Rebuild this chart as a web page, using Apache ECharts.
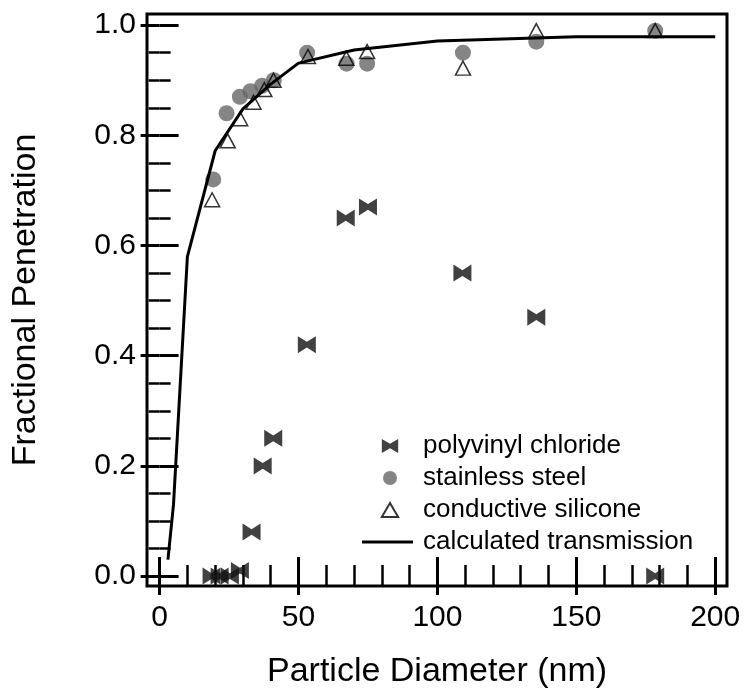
<!DOCTYPE html>
<html>
<head>
<meta charset="utf-8">
<script src="https://cdn.jsdelivr.net/npm/echarts@6/dist/echarts.min.js"></script>
<style>
html,body{margin:0;padding:0;background:#fff;}
#chart{width:745px;height:694px;}
</style>
</head>
<body>
<div id="chart"></div>
<script>
// ---- data ----
var pvcX = [18.7, 21.6, 25.3, 28.9, 33.1, 37.1, 40.9, 53, 67, 75, 109, 135.6, 178.4];
var pvcY = [0.0, 0.0, 0.0, 0.01, 0.08, 0.20, 0.25, 0.42, 0.65, 0.67, 0.55, 0.47, 0.0];

var steelX = [19.3, 24.1, 28.9, 32.7, 36.9, 41.1, 53.1, 67.3, 74.7, 109.2, 135.6, 178.4];
var steelY = [0.72, 0.84, 0.87, 0.88, 0.89, 0.90, 0.95, 0.93, 0.93, 0.95, 0.97, 0.99];

var siliconeX = [18.9, 24.5, 29.0, 33.8, 37.7, 41.0, 53.4, 67.2, 74.7, 109.2, 135.6, 178.4];
var siliconeY = [0.683, 0.79, 0.83, 0.86, 0.883, 0.90, 0.943, 0.94, 0.952, 0.922, 0.99, 0.99];

var calcX = [3, 5, 10, 20, 30, 40, 50, 70, 100, 150, 200];
var calcY = [0.03, 0.13, 0.58, 0.772, 0.848, 0.893, 0.931, 0.955, 0.971, 0.979, 0.979];

var xMajorTicks = [0, 50, 100, 150, 200];
var xMinorTicks = [10, 20, 30, 40, 60, 70, 80, 90, 110, 120, 130, 140, 160, 170, 180, 190];
var yMajorTicks = [0, 0.2, 0.4, 0.6, 0.8, 1.0];
var yMinorTicks = [0.05, 0.1, 0.15, 0.25, 0.3, 0.35, 0.45, 0.5, 0.55, 0.65, 0.7, 0.75, 0.85, 0.9, 0.95];

var seriesNames = ['polyvinyl chloride', 'stainless steel', 'conductive silicone', 'calculated transmission'];
var xTitle = 'Particle Diameter (nm)';
var yTitle = 'Fractional Penetration';

function pairs(xs, ys){ return xs.map(function(x,i){ return [x, ys[i]]; }); }

var FONT = 'Liberation Sans, Arial, Helvetica, sans-serif';
var X_MIN = -4.54, X_MAX = 204.25, Y_MIN = -0.018, Y_MAX = 1.0202;

function xAx(pos, ticks, len, withLabel){
  var a = {
    type: 'value', gridIndex: 0, position: pos, min: X_MIN, max: X_MAX,
    axisLine: {show: false},
    splitLine: {show: false},
    axisTick: {show: true, inside: true, length: len, customValues: ticks,
      lineStyle: {color: '#000', width: len > 15 ? 3 : 2.5}},
    axisLabel: {show: false}
  };
  if (withLabel) {
    a.axisLabel = {show: true, customValues: ticks, color: '#000', fontSize: 30,
      fontFamily: FONT, margin: 17, formatter: function(v){ return String(Math.round(v)); }};
    a.name = xTitle; a.nameLocation = 'middle'; a.nameGap = 69;
    a.nameTextStyle = {color: '#000', fontSize: 34, fontFamily: FONT};
  }
  return a;
}
function yAx(pos, ticks, len, withLabel){
  var a = {
    type: 'value', gridIndex: 0, position: pos, min: Y_MIN, max: Y_MAX,
    axisLine: {show: false},
    splitLine: {show: false},
    axisTick: {show: true, inside: true, length: len, customValues: ticks,
      lineStyle: {color: '#000', width: len > 15 ? 3 : 2.5}},
    axisLabel: {show: false}
  };
  if (withLabel) {
    a.axisLabel = {show: true, customValues: ticks, color: '#000', fontSize: 30,
      fontFamily: FONT, margin: 11, formatter: function(v){ return v.toFixed(1); }};
    a.name = yTitle; a.nameLocation = 'middle'; a.nameGap = 104;
    a.nameTextStyle = {color: '#000', fontSize: 34, fontFamily: FONT};
  }
  return a;
}

var bowtie = 'path://M0,0L7,4L14,0L14,12L7,8L0,12Z';
var triIcon = 'path://M7,0L14,12L0,12Z';
var lineIcon = 'path://M0,0L51,0L51,3L0,3ZM56,1.5L56,1.5';

var chart = echarts.init(document.getElementById('chart'), null, {renderer: 'canvas'});
chart.setOption({
  backgroundColor: '#fff',
  animation: false,
  grid: {left: 147, right: 18, top: 14, bottom: 105, show: true,
    borderColor: '#000', borderWidth: 3, backgroundColor: 'transparent'},
  xAxis: [
    xAx('bottom', xMajorTicks, 19, true),
    xAx('bottom', xMinorTicks, 11, false),
    xAx('top', xMajorTicks, 19, false),
    xAx('top', xMinorTicks, 11, false)
  ],
  yAxis: [
    yAx('left', yMajorTicks, 19, true),
    yAx('left', yMinorTicks, 11, false),
    yAx('right', yMajorTicks, 19, false),
    yAx('right', yMinorTicks, 11, false)
  ],
  legend: {
    orient: 'vertical', left: 357, top: 427,
    itemWidth: 56, itemHeight: 14, itemGap: 4, symbolKeepAspect: true,
    textStyle: {color: '#000', fontSize: 26, fontFamily: FONT, lineHeight: 28},
    data: [
      {name: seriesNames[0], icon: bowtie},
      {name: seriesNames[1], icon: 'circle'},
      {name: seriesNames[2], icon: triIcon},
      {name: seriesNames[3], icon: lineIcon}
    ]
  },
  series: [
    {name: seriesNames[0], type: 'scatter', symbol: bowtie, symbolSize: [18, 17],
      itemStyle: {color: '#111'}, data: pairs(pvcX, pvcY)},
    {name: seriesNames[1], type: 'scatter', symbol: 'circle', symbolSize: 16,
      itemStyle: {color: '#666666'}, data: pairs(steelX, steelY)},
    {name: seriesNames[2], type: 'scatter', symbol: 'triangle', symbolSize: [15, 14],
      itemStyle: {color: 'rgba(255,255,255,0)', borderColor: '#000', borderWidth: 1.5},
      data: pairs(siliconeX, siliconeY)},
    {name: seriesNames[3], type: 'line', symbol: 'none', showSymbol: false,
      lineStyle: {color: '#000', width: 3}, itemStyle: {color: '#000'},
      data: pairs(calcX, calcY)}
  ]
});
</script>
</body>
</html>
